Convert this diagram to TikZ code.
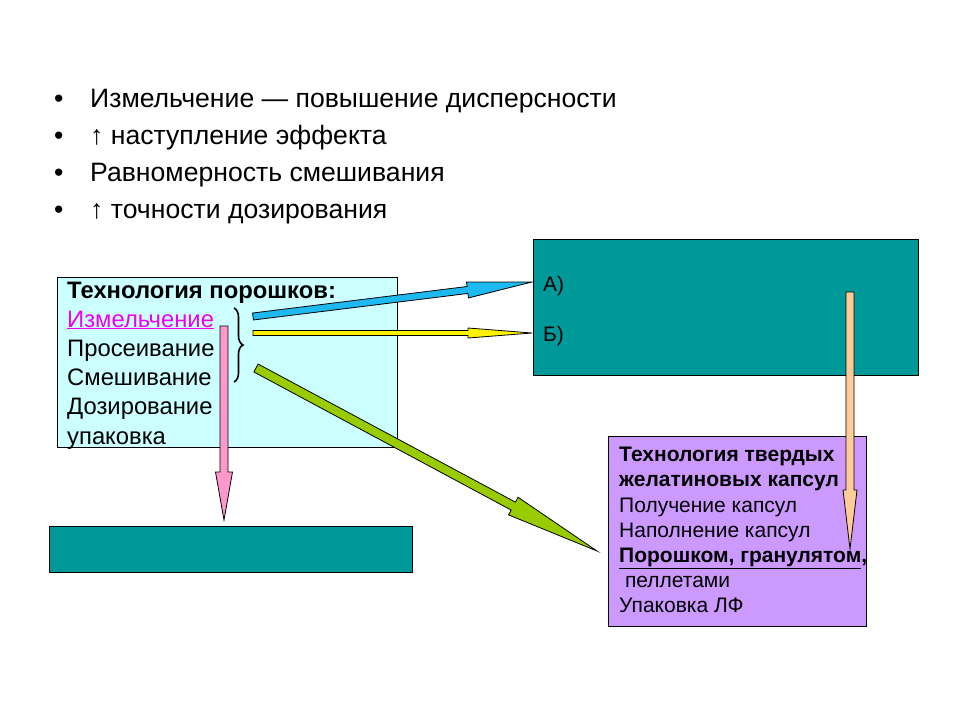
\documentclass[tikz,border=0pt]{standalone}
\usepackage{fontspec}
\setmainfont{Liberation Sans}
\usetikzlibrary{calc,decorations.pathreplacing}
\definecolor{tealfill}{HTML}{009999}
\definecolor{cyanfill}{HTML}{CCFFFF}
\definecolor{lilac}{HTML}{CC99FF}
\definecolor{skyarr}{HTML}{1EB9F0}
\definecolor{limearr}{HTML}{99CC00}
\definecolor{pinkarr}{HTML}{FF99CC}
\definecolor{peacharr}{HTML}{FFCC99}
\definecolor{magtext}{HTML}{F000F0}
\tikzset{
  box/.style={draw=black, line width=1pt, anchor=north west, inner sep=0pt},
  bultext/.style={anchor=base west, inner sep=0pt, font=\fontsize{26.6}{30}\selectfont},
  powtext/.style={anchor=base west, inner sep=0pt, font=\fontsize{23.8}{28}\selectfont},
  captext/.style={anchor=base west, inner sep=0pt, font=\fontsize{21}{25}\selectfont},
  abtext/.style={anchor=base west, inner sep=0pt, font=\fontsize{21}{25}\selectfont}
}
% block arrow: start, tip, colour, shaft half width, head half width, head length
\newcommand{\blockarr}[6]{%
  \coordinate (hb) at ($(#2)!#6!(#1)$);
  \filldraw[fill=#3, draw=black, line width=0.8pt, line join=miter]
    ($(#1)!#4!90:(#2)$) -- ($(hb)!#4!-90:(#1)$) -- ($(hb)!#5!-90:(#1)$) -- (#2)
    -- ($(hb)!#5!90:(#1)$) -- ($(hb)!#4!90:(#1)$) -- ($(#1)!#4!-90:(#2)$) -- cycle;}

\begin{document}
\begin{tikzpicture}[x=1pt,y=-1pt]
  \useasboundingbox[fill=white] (0,0) rectangle (960,720);
  \foreach \t [count=\i] in {Измельчение — повышение дисперсности,
      ↑ наступление эффекта, Равномерность смешивания, ↑ точности дозирования}{
    \node[bultext] (d\i) at (54,{107+37*(\i-1)}) {•};
    \node[bultext] (b\i) at (90,{107+37*(\i-1)}) {\t};
  }
  \node[box, fill=cyanfill, minimum width=340pt, minimum height=170pt] (pb) at (57,277) {};
  \node[box, fill=tealfill, minimum width=385pt, minimum height=136pt] (ab) at (533,239) {};
  \node[box, fill=tealfill, minimum width=363pt, minimum height=46pt] (lb) at (49,526) {};
  \node[box, fill=lilac, minimum width=258pt, minimum height=190pt] (cb) at (608,436) {};

  \node[powtext, font=\bfseries\fontsize{23.8}{28}\selectfont] (p0) at (67,298) {Технология порошков:};
  \node[powtext, text=magtext] (p1) at (67,327) {\underline{Измельчение}};
  \foreach \t [count=\i from 2] in {Просеивание,Смешивание,Дозирование,упаковка}
    \node[powtext] (p\i) at (67,{327+29.3*(\i-1)}) {\t};
  \draw[line width=1.6pt, decorate, decoration={brace, amplitude=9pt}] (234,308) -- (234,382);

  \node[abtext] (ta) at (543,291) {А)};
  \node[abtext] (tb) at (543,341) {Б)};

  \node[captext, font=\bfseries\fontsize{21}{25}\selectfont] (c1) at (619,461) {Технология твердых};
  \node[captext, font=\bfseries\fontsize{21}{25}\selectfont] (c2) at (619,486) {желатиновых капсул};
  \node[captext] (c3) at (619,512) {Получение капсул};
  \node[captext] (c4) at (619,537) {Наполнение капсул};
  \node[captext, font=\bfseries\fontsize{21}{25}\selectfont] (c5) at (619,562) {\underline{Порошком, гранулятом},};
  \node[captext] (c6) at (619,587) {\ пеллетами};
  \node[captext] (c7) at (619,612) {Упаковка ЛФ};

  \coordinate (1) at (253,316.5);
  \coordinate (2) at (532,282);
  \coordinate (3) at (253,333);
  \coordinate (4) at (532,333);
  \coordinate (5) at (256,368);
  \coordinate (6) at (597,551);
  \coordinate (7) at (224,326);
  \coordinate (8) at (224,520);
  \coordinate (9) at (850,292);
  \coordinate (10) at (850,549);
  \blockarr{1}{2}{skyarr}{3.5pt}{8pt}{65pt}
  \blockarr{3}{4}{yellow}{2.5pt}{5pt}{64pt}
  \blockarr{5}{6}{limearr}{4.5pt}{10pt}{95pt}
  \blockarr{7}{8}{pinkarr}{4pt}{8.5pt}{48pt}
  \blockarr{9}{10}{peacharr}{4pt}{7pt}{59pt}
\end{tikzpicture}
\end{document}
